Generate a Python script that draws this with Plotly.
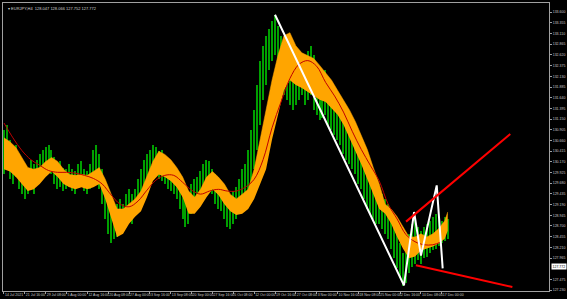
import plotly.graph_objects as go

# ---------------- data (EURJPY H4) ----------------
bar_high = [130.90,131.02,130.68,130.45,130.56,130.34,130.11,130.00,130.04,130.22,
            130.11,130.22,130.34,130.45,130.50,130.56,130.45,130.27,130.11,130.18,
            130.04,130.00,130.11,130.00,129.95,130.11,130.18,130.00,129.95,130.11,
            130.45,130.56,130.34,130.00,129.66,129.43,129.20,129.09,129.20,129.32,
            129.20,129.43,129.54,129.43,129.54,129.77,130.00,130.22,130.34,130.45,
            130.56,130.50,130.41,130.45,130.27,130.18,130.11,130.04,129.88,129.77,
            129.54,129.43,129.50,129.66,129.77,129.82,129.95,130.11,130.22,130.18,
            130.00,129.88,129.77,129.66,129.54,129.43,129.36,129.50,129.59,129.77,
            130.00,130.11,130.45,130.90,131.36,131.93,132.49,132.83,133.06,133.22,
            133.40,133.54,133.29,133.06,132.72,132.49,132.61,132.49,132.38,132.49,
            132.61,132.49,132.72,132.83,132.61,132.38,132.27,132.15,132.27,132.04,
            131.93,131.70,131.59,131.47,131.25,131.13,131.02,130.90,130.79,130.68,
            130.45,130.22,130.00,129.88,129.77,129.66,129.54,129.43,129.32,129.20,
            128.98,128.75,128.52,128.30,128.07,128.18,128.52,128.75,128.86,128.68,
            128.59,128.68,128.75,128.82,128.91,128.98,128.91,128.82,128.91,128.86]
bar_low = [129.88,130.00,129.77,129.66,129.82,129.54,129.43,129.32,129.43,129.54,
           129.43,129.66,129.77,129.88,130.00,130.04,129.88,129.66,129.54,129.59,
           129.50,129.54,129.59,129.50,129.43,129.59,129.66,129.50,129.43,129.54,
           129.77,129.88,129.54,129.20,128.86,128.52,128.30,128.41,128.45,128.52,
           128.64,128.75,128.86,128.75,128.98,129.09,129.32,129.43,129.66,129.82,
           129.95,129.88,129.77,129.73,129.66,129.54,129.50,129.43,129.32,129.09,
           128.86,128.68,128.75,128.98,129.09,129.20,129.32,129.50,129.59,129.66,
           129.43,129.20,129.09,129.04,128.86,128.68,128.64,128.75,128.86,128.98,
           129.09,129.20,129.32,129.66,130.00,130.45,131.02,131.59,131.93,132.27,
           132.49,132.61,132.27,131.93,131.70,131.59,131.47,131.36,131.47,131.59,
           131.70,131.47,131.59,131.70,131.36,131.25,131.13,131.18,131.25,131.02,
           130.90,130.79,130.68,130.56,130.34,130.22,130.11,130.00,129.88,129.66,
           129.54,129.32,129.09,128.98,128.86,128.75,128.75,128.64,128.52,128.41,
           128.18,127.96,127.73,127.50,127.32,127.39,127.62,127.77,127.84,127.91,
           127.84,127.96,128.00,128.07,128.14,128.18,128.23,128.30,128.36,128.41]
bar_idx = list(range(len(bar_high)))

band_idx = list(range(0, 149, 2)) + [149]
band_upper = [130.72,130.63,130.50,130.27,130.04,130.00,130.04,130.18,130.27,130.18,
              130.00,129.88,129.86,129.88,129.86,129.95,130.04,129.77,129.43,129.09,
              129.09,129.20,129.32,129.50,129.82,130.18,130.41,130.34,130.22,130.04,
              129.82,129.50,129.36,129.54,129.82,129.95,129.82,129.66,129.43,129.32,
              129.43,129.54,130.00,130.68,131.36,132.04,132.61,133.06,133.13,132.83,
              132.67,132.61,132.54,132.38,132.22,132.04,131.81,131.59,131.36,131.09,
              130.79,130.45,130.04,129.66,129.20,129.09,128.91,128.68,128.45,128.45,
              128.52,128.45,128.52,128.64,128.82,129.02]
band_lower = [130.00,129.95,129.82,129.66,129.50,129.54,129.66,129.82,129.95,129.82,
              129.66,129.59,129.54,129.59,129.54,129.59,129.66,129.32,128.86,128.45,
              128.52,128.75,128.91,129.04,129.36,129.73,129.88,129.82,129.73,129.59,
              129.36,128.98,128.98,129.14,129.36,129.54,129.41,129.20,129.04,128.95,
              128.98,129.09,129.32,129.66,130.00,130.68,131.25,131.81,132.04,131.93,
              131.86,131.77,131.70,131.59,131.54,131.40,131.25,131.02,130.72,130.45,
              130.11,129.77,129.43,129.09,128.98,128.75,128.45,128.18,127.96,128.00,
              128.14,128.18,128.23,128.30,128.41,128.59]

ma_idx = list(range(0, 148, 3))
ma_vals = [131.06,130.72,130.43,130.22,130.09,129.97,129.93,129.93,129.91,129.86,
           129.79,129.66,129.41,129.20,129.14,129.27,129.52,129.75,129.86,129.86,
           129.70,129.52,129.43,129.50,129.54,129.50,129.50,129.59,129.77,130.22,
           130.95,131.54,132.08,132.40,132.49,132.36,131.99,131.68,131.31,130.86,
           130.45,130.09,129.73,129.20,128.86,128.50,128.34,128.27,128.27,128.34]

zigzag_idx = [91, 134.3, 137.7, 140, 145.3, 147.3]
zigzag_px = [133.54, 127.34, 129.02, 128.02, 129.63, 127.73]
upper_trend_idx = [135, 170]
upper_trend_px = [128.80, 130.81]
lower_trend_idx = [138.3, 170.7]
lower_trend_px = [127.80, 127.30]

x_tick_idx = list(range(0, 148, 7))
x_tick_text = ["14 Jul 2021", "21 Jul 16:00", "29 Jul 08:00", "5 Aug 00:00", "12 Aug 16:00",
               "20 Aug 08:00", "27 Aug 00:00", "3 Sep 16:00", "13 Sep 08:00", "20 Sep 00:00",
               "27 Sep 16:00", "5 Oct 08:00", "12 Oct 00:00", "19 Oct 16:00", "27 Oct 08:00",
               "3 Nov 00:00", "10 Nov 16:00", "18 Nov 08:00", "25 Nov 00:00", "2 Dec 16:00",
               "10 Dec 08:00", "17 Dec 00:00"]
# 127.720 sits under the current-price marker, as in the reference
y_tick_vals = [127.230, 127.475, 127.965, 128.210, 128.455, 128.700, 128.945,
               129.190, 129.435, 129.680, 129.925, 130.170, 130.415, 130.660, 130.905,
               131.150, 131.395, 131.640, 131.885, 132.130, 132.375, 132.620, 132.865,
               133.110, 133.355, 133.600]
last_price = 127.772
title_text = "EURJPY,H4  128.047 128.066 127.752 127.772"

# ---------------- figure ----------------
fig = go.Figure()

fig.add_trace(go.Bar(
    x=bar_idx, y=[h - l for h, l in zip(bar_high, bar_low)], base=bar_low,
    width=0.45, marker=dict(color="#00a000", line=dict(width=0)), hoverinfo="skip"))

fig.add_trace(go.Scatter(x=band_idx, y=band_lower, mode="lines",
                         line=dict(width=0, color="#ffa500"), hoverinfo="skip"))
fig.add_trace(go.Scatter(x=band_idx, y=band_upper, mode="lines", fill="tonexty",
                         fillcolor="#ffa500", line=dict(width=0.5, color="#ffa500"),
                         hoverinfo="skip"))

fig.add_trace(go.Scatter(x=ma_idx, y=ma_vals, mode="lines", line_shape="spline",
                         line=dict(width=1, color="#c00000"), hoverinfo="skip"))

fig.add_trace(go.Scatter(x=zigzag_idx, y=zigzag_px, mode="lines",
                         line=dict(width=2, color="#ffffff"), hoverinfo="skip"))
fig.add_trace(go.Scatter(x=upper_trend_idx, y=upper_trend_px, mode="lines",
                         line=dict(width=2, color="#ff0000"), hoverinfo="skip"))
fig.add_trace(go.Scatter(x=lower_trend_idx, y=lower_trend_px, mode="lines",
                         line=dict(width=2, color="#ff0000"), hoverinfo="skip"))

axis_font = dict(family="Liberation Sans", size=3.5, color="#c8c8c8")

fig.update_layout(
    width=567, height=299,
    margin=dict(l=2, r=15, t=2, b=6),
    paper_bgcolor="#000000", plot_bgcolor="#000000",
    showlegend=False, bargap=0,
    xaxis=dict(range=[-1/3, 183.0], showgrid=False, zeroline=False,
               showline=True, linecolor="#a0a0a0", linewidth=1, mirror=True,
               tickmode="array", tickvals=x_tick_idx, ticktext=x_tick_text,
               tickangle=0, ticks="outside", ticklen=2, tickcolor="#a0a0a0",
               ticklabelposition="outside right", tickfont=axis_font),
    yaxis=dict(range=[127.21, 133.81], side="right", showgrid=False, zeroline=False,
               showline=True, linecolor="#a0a0a0", linewidth=1, mirror=True,
               tickmode="array", tickvals=y_tick_vals,
               ticktext=[f"{v:.3f}" for v in y_tick_vals],
               ticks="outside", ticklen=2, tickcolor="#a0a0a0", tickfont=axis_font),
)

fig.add_annotation(xref="paper", yref="paper", x=0.005, y=0.995, xanchor="left",
                   yanchor="top", showarrow=False, text="▾ " + title_text,
                   font=dict(family="Liberation Sans", size=4, color="#d0d0d0"))
fig.add_annotation(xref="paper", yref="y", x=1.003, y=last_price, xanchor="left",
                   yanchor="middle", showarrow=False, text=f"{last_price:.3f}",
                   bgcolor="#ffffff", borderpad=0.5,
                   font=dict(family="Liberation Sans", size=3.5, color="#000000"))

fig.write_html("out.html")
